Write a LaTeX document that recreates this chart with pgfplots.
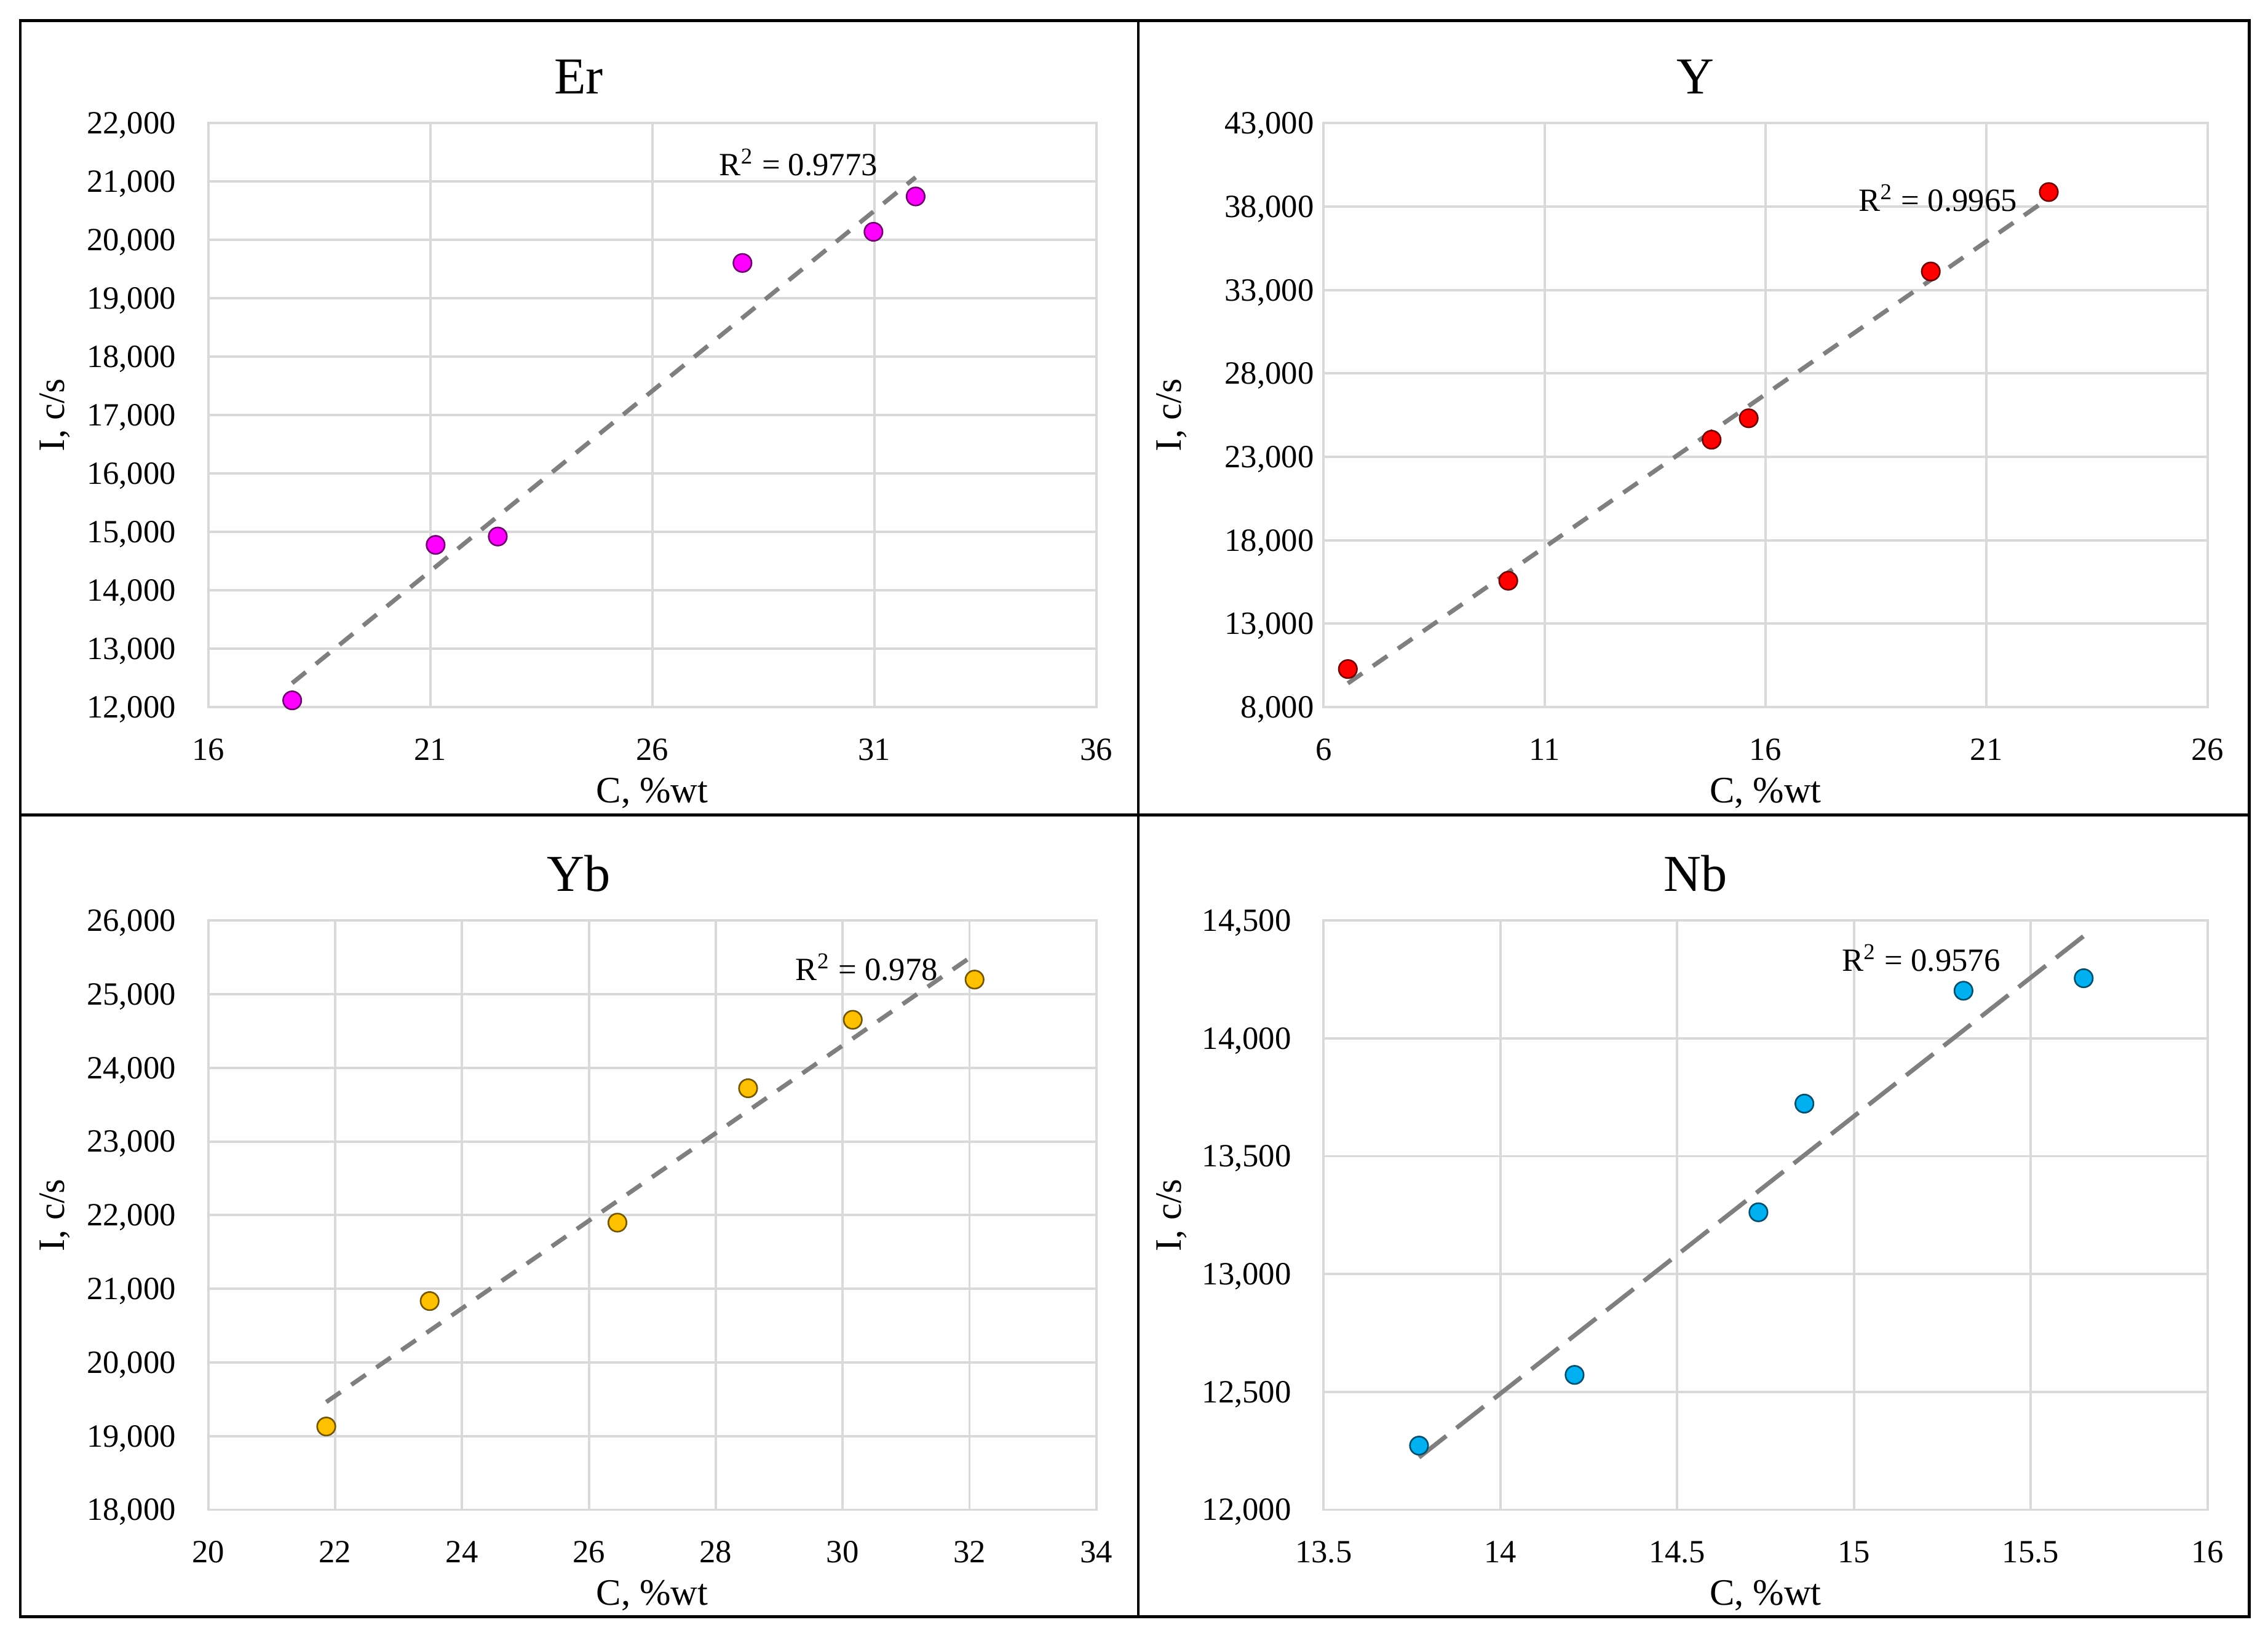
\documentclass[border=0pt]{standalone}
\usepackage{pgfplots}
\pgfplotsset{compat=1.18}
\usepackage{fontspec}
\setmainfont{Liberation Serif}

\definecolor{gridc}{HTML}{D9D9D9}
\definecolor{trendc}{HTML}{7F7F7F}
\definecolor{erc}{HTML}{FF00FF}
\definecolor{yc}{HTML}{FF0000}
\definecolor{ybc}{HTML}{FFC000}
\definecolor{nbc}{HTML}{00B0F0}

\tikzset{rsq/.style={anchor=base, font=\fontsize{10}{12}\selectfont, inner sep=0pt}}

\pgfplotsset{
  panel/.style={
    scale only axis,
    axis lines=box,
    axis line style={draw=gridc, line width=0.75pt},
    grid=major,
    major grid style={draw=gridc, line width=0.75pt},
    major tick length=0pt,
    tick style={draw=none},
    scaled ticks=false,
    /pgf/number format/assume math mode=true,
    /pgf/number format/1000 sep={,},
    ticklabel style={font=\fontsize{10}{12}\selectfont},
    xticklabel style={anchor=base, inner sep=0pt, yshift=-16.4pt},
    yticklabel style={anchor=east, inner sep=0pt, text height=6.6pt, text depth=0pt, xshift=-9.8pt},
    label style={font=\fontsize{11.5}{13}\selectfont},
    xlabel style={at={(axis description cs:0.5,0)}, anchor=base, yshift=-29.5pt},
    ylabel style={at={(axis description cs:-0.173,0.5)}, anchor=center},
    title style={font=\fontsize{16}{18}\selectfont, anchor=base, yshift=3pt},
    xlabel={C, \%wt},
    ylabel={I, c/s},
  },
  trend/.style={trendc, line width=1.35pt, dash pattern=on 5.4pt off 4pt, mark=none},
  pts/.style={only marks, mark=*, mark size=2.8pt,
    mark options={solid, fill=#1, draw=#1!45!black, line width=0.5pt}},
}

\begin{document}
\begin{tikzpicture}
\path[use as bounding box] (0,0) rectangle (700pt,504pt);

% Er
\begin{axis}[panel, at={(64.28pt,285.7pt)}, anchor=south west,
  width=274.1pt, height=180.3pt,
  xmin=16, xmax=36, xtick={16,21,...,36},
  ymin=12000, ymax=22000, ytick={12000,13000,...,22000},
  title={Er}, title style={at={(axis description cs:0.417,1)}}]
\addplot[trend] coordinates {(17.89,12411) (31.93,21072)};
\addplot[pts=erc] coordinates {
(17.89,12116) (21.12,14778) (22.52,14921) (28.03,19605) (30.98,20139) (31.93,20744)};
\node[rsq] at (axis cs:29.29,21104) {R\textsuperscript{2} = 0.9773};
\end{axis}

% Y
\begin{axis}[panel, at={(408.5pt,285.7pt)}, anchor=south west,
  width=272.8pt, height=180.3pt,
  xmin=6, xmax=26, xtick={6,11,...,26},
  ymin=8000, ymax=43000, ytick={8000,13000,...,43000},
  yticklabel style={xshift=7pt},
  ylabel style={at={(axis description cs:-0.172,0.5)}},
  title={Y}, title style={at={(axis description cs:0.421,1)}}]
\addplot[trend] coordinates {(6.55,9427) (22.41,38497)};
\addplot[pts=yc] coordinates {
(6.55,10282) (10.18,15574) (14.78,24027) (15.62,25311) (19.74,34108) (22.41,38867)};
\node[rsq] at (axis cs:19.9,37715) {R\textsuperscript{2} = 0.9965};
\end{axis}

% Yb
\begin{axis}[panel, at={(64.28pt,37.94pt)}, anchor=south west,
  width=274.1pt, height=181.9pt,
  xmin=20, xmax=34, xtick={20,22,...,34},
  ymin=18000, ymax=26000, ytick={18000,19000,...,26000},
  title={Yb}, title style={at={(axis description cs:0.417,1)}}]
\addplot[trend] coordinates {(21.86,19462) (32.08,25539)};
\addplot[pts=ybc] coordinates {
(21.86,19130) (23.49,20833) (26.45,21898) (28.51,23722) (30.16,24652) (32.08,25198)};
\node[rsq] at (axis cs:30.38,25189) {R\textsuperscript{2} = 0.978};
\end{axis}

% Nb
\begin{axis}[panel, at={(408.5pt,37.94pt)}, anchor=south west,
  width=272.8pt, height=181.9pt,
  xmin=13.5, xmax=16, xtick={13.5,14,...,16},
  ymin=12000, ymax=14500, ytick={12000,12500,...,14500},
  ylabel style={at={(axis description cs:-0.172,0.5)}},
  title={Nb}, title style={at={(axis description cs:0.421,1)}}]
\addplot[trend, dash pattern=on 10.7pt off 4pt] coordinates {(13.77,12222) (15.65,14434)};
\addplot[pts=nbc] coordinates {
(13.77,12272) (14.21,12572) (14.73,13262) (14.86,13723) (15.31,14202) (15.65,14255)};
\node[rsq] at (axis cs:15.19,14285) {R\textsuperscript{2} = 0.9576};
\end{axis}

% panel frame
\draw[line width=0.9pt] (6.25pt,4.9pt) rectangle (694.2pt,497.7pt);
\draw[line width=0.9pt] (351.3pt,4.9pt) -- (351.3pt,497.7pt);
\draw[line width=0.9pt] (6.25pt,252.4pt) -- (694.2pt,252.4pt);
\end{tikzpicture}
\end{document}
